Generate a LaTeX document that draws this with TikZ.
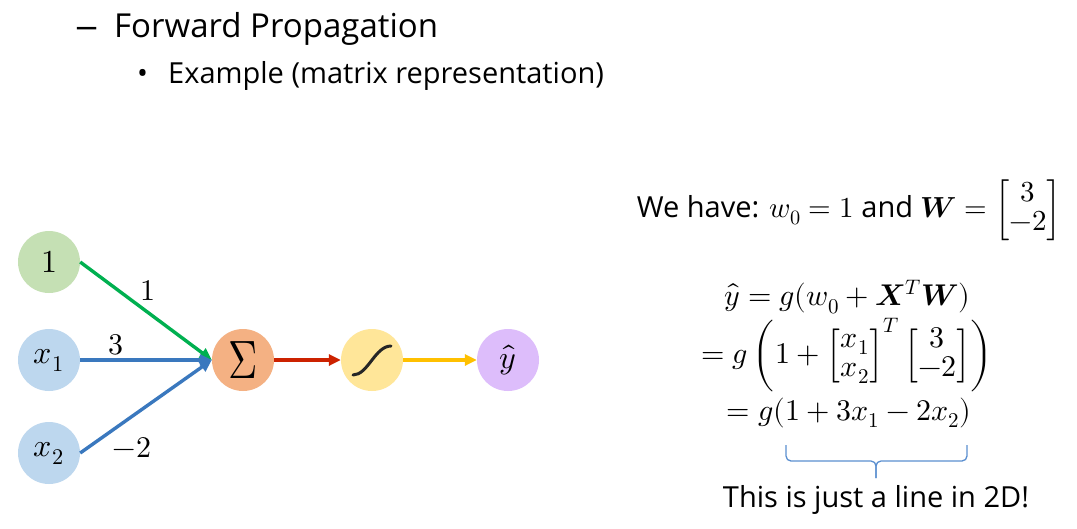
\documentclass[tikz,border=0pt]{standalone}
\usepackage{amsmath}
\usepackage{graphicx}
\usepackage{fontspec}
\usepackage{unicode-math}
\setmainfont{Open Sans}
\setmathfont{Latin Modern Math}
\usetikzlibrary{arrows.meta}
\definecolor{cgreen}{HTML}{C5E0B4}
\definecolor{cblue}{HTML}{BDD7EE}
\definecolor{corange}{HTML}{F4B183}
\definecolor{cyellow}{HTML}{FFE699}
\definecolor{cpurple}{HTML}{DDBDFB}
\definecolor{agreen}{HTML}{00B050}
\definecolor{ablue}{HTML}{3A78BE}
\definecolor{ared}{HTML}{CC2200}
\definecolor{ayellow}{HTML}{FFC000}
\definecolor{bblue}{HTML}{5B8FD0}
\renewcommand{\arraystretch}{0.85}
\begin{document}
\begin{tikzpicture}[x=1pt,y=-1pt,
  neuron/.style={circle,minimum size=62pt,inner sep=0pt,font=\fontsize{32}{34}\selectfont},
  conn/.style={line width=3.4pt,-{Triangle[length=12pt,width=11pt]}},
  lbl/.style={font=\fontsize{30}{32}\selectfont},
  txt/.style={font=\fontsize{29}{34}\selectfont, inner sep=0pt}]
\useasboundingbox (0,0) rectangle (1077,528);
\fill[white] (0,0) rectangle (1077,528);
% header
\node[anchor=base west, inner sep=0pt, font=\fontsize{33}{38}\selectfont] (dash) at (75,37) {\scalebox{1.4}[1]{–}};
\node[anchor=base west, inner sep=0pt, font=\fontsize{33}{38}\selectfont] (t1) at (114,37) {Forward Propagation};
\node[anchor=base west, inner sep=0pt, font=\fontsize{29}{34}\selectfont] (bul) at (137,83) {•};
\node[anchor=base west, inner sep=0pt, font=\fontsize{29}{34}\selectfont] (t2) at (168,83) {Example (matrix representation)};
% neurons
\node[neuron, fill=cgreen] (n1) at (49,262) {$1$};
\node[neuron, fill=cblue] (x1) at (49,360) {$x_1$};
\node[neuron, fill=cblue] (x2) at (49,453) {$x_2$};
\node[neuron, fill=corange, font=\fontsize{54}{56}\selectfont] (sum) at (243,360) {\scalebox{0.75}[1]{$\Sigma$}};
\node[neuron, fill=cyellow] (sig) at (372,360) {};
\node[neuron, fill=cpurple] (yh) at (508,360) {$\hat{y}$};
\draw[line width=3pt, line cap=round, black!85] (353,375) .. controls (368,375) and (375,346) .. (391,346);
% connectors
\draw[conn, agreen] (n1.east) -- (sum.west);
\draw[conn, ablue] (x1.east) -- (sum.west);
\draw[conn, ablue] (x2.east) -- (sum.west);
\draw[conn, ared] (sum.east) -- (sig.west);
\draw[conn, ayellow] (sig.east) -- (yh.west);
\node[lbl] (l1) at (148,291) {$1$};
\node[lbl] (l3) at (116,345) {$3$};
\node[lbl] (l2) at (132,448) {$-2$};
% right side
\node[txt] (have) at (849,210) {We have: $w_0 = 1$ and $\symbfit{W} = \begin{bmatrix}3\\-2\end{bmatrix}$};
\node[txt, font=\fontsize{30}{34}\selectfont] (e1) at (847,297) {$\hat{y} = g(w_0 + \symbfit{X}^T\symbfit{W})$};
\node[txt, font=\fontsize{30}{34}\selectfont] (e2) at (847,355) {$= g\left(1+\begin{bmatrix}x_1\\x_2\end{bmatrix}^T\begin{bmatrix}3\\-2\end{bmatrix}\right)$};
\node[txt, font=\fontsize{30}{34}\selectfont] (e3) at (849,413) {$= g(1+3x_1-2x_2)$};
\coordinate (bl) at (786,445);
\coordinate (br) at (967,445);
\coordinate (bt) at (876,478);
\draw[bblue, line width=1.3pt, rounded corners=5pt] (bl) |- (876,461) -- (bt);
\draw[bblue, line width=1.3pt, rounded corners=5pt] (br) |- (876,461) -- (bt);
\node[txt] (note) at (876,500) {This is just a line in 2D!};
\end{tikzpicture}
\end{document}
